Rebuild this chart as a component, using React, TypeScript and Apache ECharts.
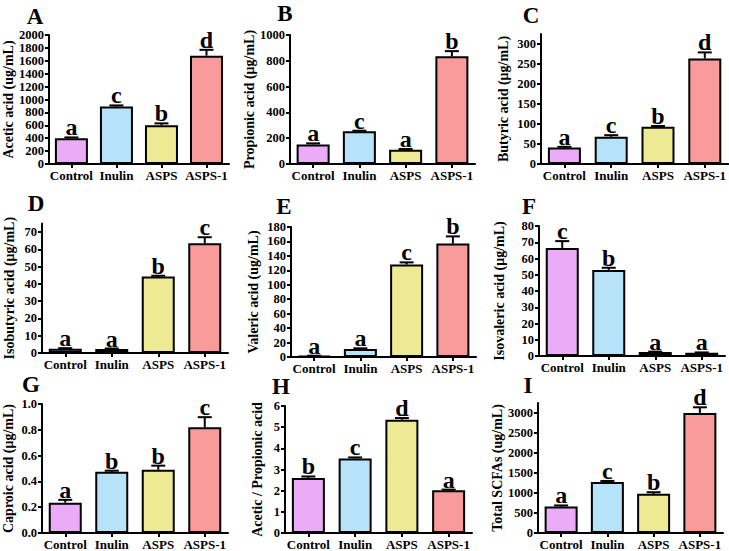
import React, { useEffect, useRef } from "react";
import * as echarts from "echarts";

const categories = ["Control", "Inulin", "ASPS", "ASPS-1"];

const aceticMeans = [400, 890, 600, 1680];
const aceticErrors = [12, 18, 30, 90];
const aceticLetters = ["a", "c", "b", "d"];

const propionicMeans = [152, 253, 110, 835];
const propionicErrors = [8, 5, 6, 40];
const propionicLetters = ["a", "c", "a", "b"];

const butyricMeans = [41, 68, 93, 264];
const butyricErrors = [2, 4, 2, 15];
const butyricLetters = ["a", "c", "b", "d"];

const isobutyricMeans = [2.5, 2.3, 44.2, 63.5];
const isobutyricErrors = [0.3, 0.3, 0.5, 3.5];
const isobutyricLetters = ["a", "a", "b", "c"];

const valericMeans = [1.5, 11, 128, 157];
const valericErrors = [0.3, 1, 3, 10];
const valericLetters = ["a", "a", "c", "b"];

const isovalericMeans = [66.5, 53, 2.5, 2.0];
const isovalericErrors = [4.2, 1.3, 0.2, 0.2];
const isovalericLetters = ["c", "b", "a", "a"];

const caproicMeans = [0.235, 0.475, 0.49, 0.82];
const caproicErrors = [0.022, 0.008, 0.032, 0.078];
const caproicLetters = ["a", "b", "b", "c"];

const ratioMeans = [2.6, 3.52, 5.35, 2.02];
const ratioErrors = [0.07, 0.05, 0.08, 0.03];
const ratioLetters = ["b", "c", "d", "a"];

const totalMeans = [660, 1275, 978, 3000];
const totalErrors = [28, 25, 40, 140];
const totalLetters = ["a", "c", "b", "d"];

const panelTitles = ["A", "B", "C", "D", "E", "F", "G", "H", "I"];
const yNames = [
  "Acetic acid (ug/mL)",
  "Propionic acid (μg/mL)",
  "Butyric acid (μg/mL)",
  "Isobutyric acid (μg/mL)",
  "Valeric acid (ug/mL)",
  "Isovaleric acid (μg/mL)",
  "Caproic acid (μg/mL)",
  "Acetic / Propionic acid",
  "Total SCFAs (ug/mL)",
];
const yMax = [2000, 1000, 325, 75, 180, 80, 1.0, 6, 3250];
const yInterval = [200, 200, 50, 10, 20, 10, 0.2, 1, 500];
const yLastTick = [2000, 1000, 300, 70, 180, 80, 1.0, 6, 3000];

const barColors = ["#EBABF7", "#B6E2FA", "#EEEA94", "#F99B9A"];
const FONT = "'Liberation Serif', 'Times New Roman', serif";

const seriesMeans = [aceticMeans, propionicMeans, butyricMeans, isobutyricMeans, valericMeans, isovalericMeans, caproicMeans, ratioMeans, totalMeans];
const seriesErrors = [aceticErrors, propionicErrors, butyricErrors, isobutyricErrors, valericErrors, isovalericErrors, caproicErrors, ratioErrors, totalErrors];
const seriesLetters = [aceticLetters, propionicLetters, butyricLetters, isobutyricLetters, valericLetters, isovalericLetters, caproicLetters, ratioLetters, totalLetters];

// layout: [left, top, width, height, nameGap, titleX, titleY]
const layouts = [
  [47, 35, 182, 129, 33, 35, 16],
  [290, 35, 185, 129, 27, 285, 13],
  [541, 34, 188, 130, 31, 531, 15],
  [42, 223.4, 186, 129.6, 26, 36, 203],
  [291, 227, 185, 130, 31, 284, 206],
  [539, 226, 186, 130, 33, 529, 206],
  [42, 404, 186, 130, 27, 31, 384],
  [285, 406, 187, 129, 21, 281, 386],
  [538, 402.9, 185, 131.1, 31, 528, 385],
];

function buildOption() {
  const grid: any[] = [];
  const xAxis: any[] = [];
  const yAxis: any[] = [];
  const series: any[] = [];
  const graphic: any[] = [];

  for (let p = 0; p < 9; p++) {
    const [left, top, width, height, nameGap, tx, ty] = layouts[p];
    grid.push({ left, top, width, height, containLabel: false });
    xAxis.push({
      type: "category",
      gridIndex: p,
      data: categories,
      axisLine: { show: true, lineStyle: { color: "#000", width: 2 } },
      axisTick: { show: true, alignWithLabel: true, length: 4, lineStyle: { color: "#000", width: 2 } },
      axisLabel: { color: "#000", fontFamily: FONT, fontWeight: "bold", fontSize: 13, margin: 5, interval: 0 },
      splitLine: { show: false },
    });
    const maxV = yMax[p];
    const last = yLastTick[p];
    const intv = yInterval[p];
    const tickVals: number[] = [];
    for (let v = 0; v <= last + 1e-9; v += intv) tickVals.push(Math.round(v * 1000) / 1000);
    const isDecimal = p === 6;
    yAxis.push({
      type: "value",
      gridIndex: p,
      min: 0,
      max: maxV,
      interval: intv,
      name: yNames[p],
      nameLocation: "middle",
      nameGap,
      nameTextStyle: { color: "#000", fontFamily: FONT, fontWeight: "bold", fontSize: 14 },
      axisLine: { show: true, lineStyle: { color: "#000", width: 2 } },
      axisTick: {
        show: true,
        length: 4,
        lineStyle: { color: "#000", width: 2 },
        ...(maxV !== last ? { customValues: tickVals } : {}),
      },
      axisLabel: {
        color: "#000",
        fontFamily: FONT,
        fontWeight: "bold",
        fontSize: 12.5,
        margin: 5,
        formatter: (v: number) => (v > last + 1e-9 ? "" : isDecimal ? v.toFixed(1) : String(v)),
      },
      splitLine: { show: false },
    });
    const means = seriesMeans[p];
    const errs = seriesErrors[p];
    const letters = seriesLetters[p];
    series.push({
      type: "bar",
      xAxisIndex: p,
      yAxisIndex: p,
      barWidth: 33,
      data: means.map((v, i) => ({ value: v, itemStyle: { color: barColors[i], borderColor: "#000", borderWidth: 2 } })),
    });
    series.push({
      type: "custom",
      xAxisIndex: p,
      yAxisIndex: p,
      z: 5,
      data: means.map((v, i) => [i, v, errs[i]]),
      renderItem: (params: any, api: any) => {
        const idx = params.dataIndex;
        const x = api.value(0);
        const m = api.value(1);
        const e = api.value(2);
        const p0 = api.coord([x, m]);
        const p1 = api.coord([x, m + e]);
        const hc = 7;
        return {
          type: "group",
          children: [
            { type: "line", shape: { x1: p0[0], y1: p0[1], x2: p1[0], y2: p1[1] }, style: { stroke: "#000", lineWidth: 2 } },
            { type: "line", shape: { x1: p1[0] - hc, y1: p1[1], x2: p1[0] + hc, y2: p1[1] }, style: { stroke: "#000", lineWidth: 2 } },
            {
              type: "text",
              x: p1[0],
              y: p1[1] - 10,
              style: {
                text: letters[idx],
                fill: "#000",
                fontFamily: FONT,
                fontWeight: "bold",
                fontSize: 24,
                align: "center",
                verticalAlign: "middle",
                textAlign: "center",
                textVerticalAlign: "middle",
              },
            },
          ],
        };
      },
    });
    graphic.push({
      type: "text",
      x: tx,
      y: ty,
      style: {
        text: panelTitles[p],
        fill: "#000",
        fontFamily: FONT,
        fontWeight: "bold",
        fontSize: 23,
        align: "center",
        verticalAlign: "middle",
        textAlign: "center",
        textVerticalAlign: "middle",
      },
    });
  }

  return {
    animation: false,
    backgroundColor: "#fff",
    grid,
    xAxis,
    yAxis,
    series,
    graphic,
  };
}

export default function App() {
  const ref = useRef<HTMLDivElement>(null);
  useEffect(() => {
    if (!ref.current) return;
    const chart = echarts.init(ref.current, undefined, { renderer: "svg" });
    chart.setOption(buildOption() as any);
    return () => chart.dispose();
  }, []);
  return <div ref={ref} style={{ position: "fixed", left: 0, top: 0, width: 729, height: 551, background: "#fff" }} />;
}
